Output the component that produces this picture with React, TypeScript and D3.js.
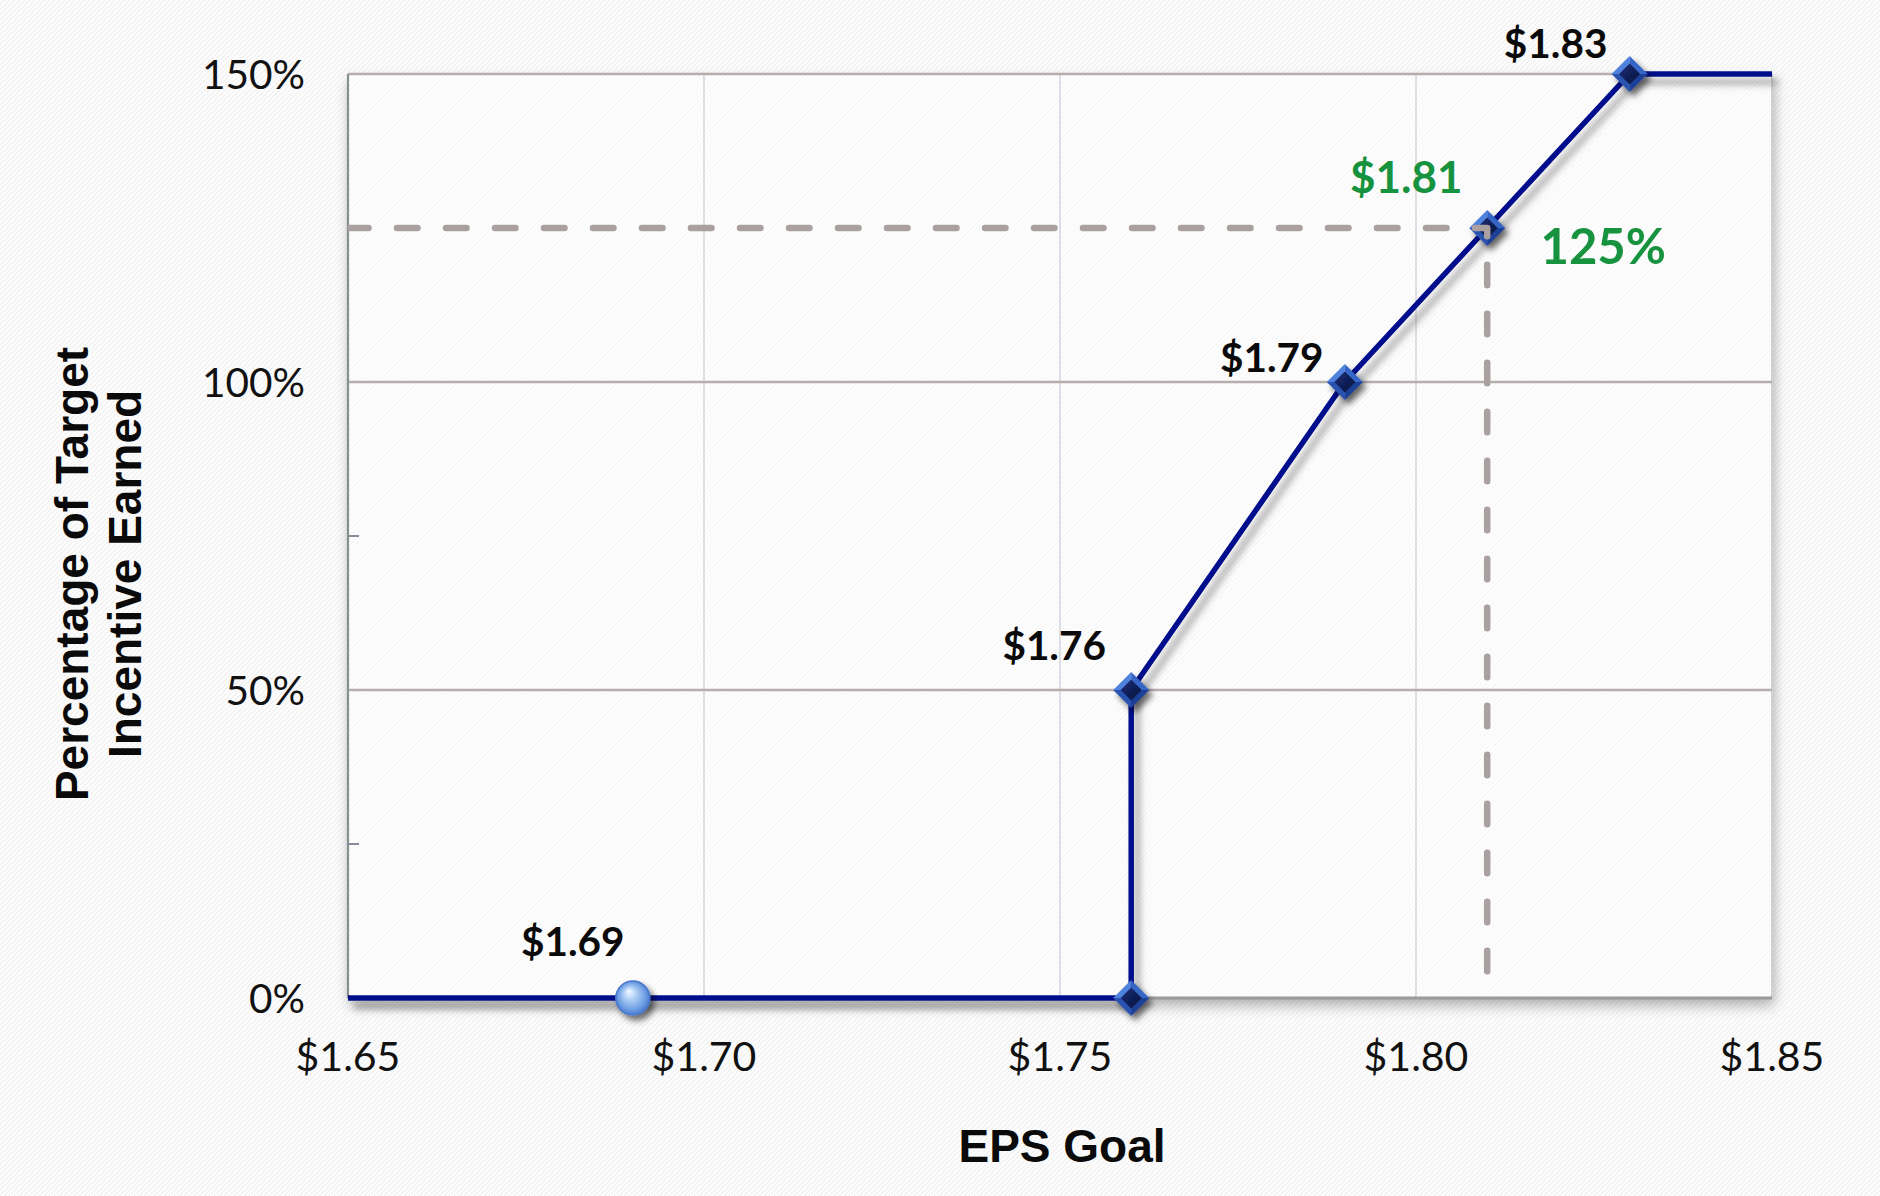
import React from "react";
import * as d3 from "d3";

// ---------- data ----------
const xTickValues = [1.65, 1.7, 1.75, 1.8, 1.85];
const yTickValues = [0, 0.5, 1.0, 1.5];
const yMinorTickValues = [0.25, 0.75, 1.25];

const payoutEps = [1.65, 1.76, 1.76, 1.79, 1.81, 1.83, 1.85];
const payoutPct = [0, 0, 0.5, 1.0, 1.25, 1.5, 1.5];

const diamondEps = [1.76, 1.76, 1.79, 1.81, 1.83];
const diamondPct = [0, 0.5, 1.0, 1.25, 1.5];

const thresholdEps = [1.69];
const thresholdPct = [0];

const refEps = [1.65, 1.81, 1.81];
const refPct = [1.25, 1.25, 0.04];

const labelText = ["$1.69", "$1.76", "$1.79", "$1.81", "125%", "$1.83"];
const labelEps = [1.69, 1.76, 1.79, 1.81, 1.81, 1.83];
const labelPct = [0, 0.5, 1.0, 1.25, 1.25, 1.5];
const labelHighlight = [false, false, false, true, true, false];

// ---------- layout / style ----------
const W = 1880;
const H = 1196;
const PL = 348, PR = 1772, PT = 74, PB = 998;
const labelOffsets: [number, number, number][] = [
  [-60, -42, 40.5],
  [-77, -30, 40.5],
  [-73, -10, 40.5],
  [-81, -35, 44],
  [116, 36, 49],
  [-74, -16, 40.5],
];
const NAVY = "#000c8c";
const GREEN = "#17923f";
const DASH = "#aaa0a0";

export default function App() {
  const x = d3.scaleLinear().domain([1.65, 1.85]).range([PL, PR]);
  const y = d3.scaleLinear().domain([0, 1.5]).range([PB, PT]);

  const line = d3
    .line<[number, number]>()
    .x((d) => x(d[0]))
    .y((d) => y(d[1]));

  const payoutPath = line(payoutEps.map((e, i) => [e, payoutPct[i]]) as [number, number][]) || "";
  const refPath = line(refEps.map((e, i) => [e, refPct[i]]) as [number, number][]) || "";

  const fmtX = (v: number) => "$" + d3.format(".2f")(v);
  const fmtY = d3.format(".0%");

  const dr = 18; // diamond half-size
  const di = 10.5;

  return (
    <svg
      width={W}
      height={H}
      style={{ position: "absolute", left: 0, top: 0, display: "block" }}
      xmlns="http://www.w3.org/2000/svg"
    >
      <defs>
        <pattern id="hatch" width="5" height="5" patternUnits="userSpaceOnUse">
          <rect width="5" height="5" fill="#fcfcfc" />
          <path d="M-1,6 L6,-1" stroke="#ececec" strokeWidth="1" />
        </pattern>
        <filter id="plotShadow" x="-10%" y="-10%" width="120%" height="125%">
          <feDropShadow dx="2" dy="7" stdDeviation="7" floodColor="#6a6a6a" floodOpacity="0.55" />
        </filter>
        <filter id="lineShadow" x="-10%" y="-10%" width="120%" height="120%">
          <feDropShadow dx="6" dy="8" stdDeviation="3.5" floodColor="#6a6a6a" floodOpacity="0.6" />
        </filter>
        <filter id="markerShadow" x="-60%" y="-60%" width="220%" height="220%">
          <feDropShadow dx="4" dy="5" stdDeviation="3" floodColor="#000" floodOpacity="0.55" />
        </filter>
        <radialGradient id="sphere" cx="50%" cy="50%" r="55%" fx="38%" fy="30%">
          <stop offset="0%" stopColor="#f4faff" />
          <stop offset="30%" stopColor="#b6d4f7" />
          <stop offset="75%" stopColor="#6a9be2" />
          <stop offset="100%" stopColor="#3d6dc6" />
        </radialGradient>
        <linearGradient id="diamondCore" x1="0" y1="0" x2="1" y2="1">
          <stop offset="0%" stopColor="#1a2f78" />
          <stop offset="100%" stopColor="#07123a" />
        </linearGradient>
        <clipPath id="plotClip">
          <rect x={PL} y={PT - 10} width={PR - PL} height={PB - PT + 10} />
        </clipPath>
      </defs>

      {/* background */}
      <rect x={0} y={0} width={W} height={H} fill="url(#hatch)" />

      {/* plot area */}
      <rect x={PL} y={PT} width={PR - PL} height={PB - PT} fill="#ffffff" filter="url(#plotShadow)" />
      <rect x={PL} y={PT} width={PR - PL} height={PB - PT} fill="url(#hatch)" opacity={0.6} />
      <line x1={PR} x2={PR} y1={PT} y2={PB} stroke="#d0d0d0" strokeWidth={2} />

      {/* vertical gridlines */}
      {xTickValues.slice(1, -1).map((v) => (
        <line key={"vg" + v} x1={x(v)} x2={x(v)} y1={PT} y2={PB} stroke="#d6d6e2" strokeWidth={1.6} />
      ))}
      {/* horizontal gridlines */}
      {yTickValues.slice(1).map((v) => (
        <line key={"hg" + v} x1={PL} x2={PR} y1={y(v)} y2={y(v)} stroke="#b6adad" strokeWidth={2.4} />
      ))}

      {/* axes */}
      <line x1={PL} x2={PL} y1={PT} y2={PB} stroke="#86908f" strokeWidth={2.2} />
      <line x1={PL} x2={PR} y1={PB} y2={PB} stroke="#9a9a9a" strokeWidth={3} />
      {yMinorTickValues.map((v) => (
        <line key={"mt" + v} x1={PL} x2={PL + 11} y1={y(v)} y2={y(v)} stroke="#8a8a9a" strokeWidth={2} />
      ))}

      {/* tick labels */}
      {xTickValues.map((v) => (
        <text
          key={"xt" + v}
          x={x(v)}
          y={PB + 73}
          textAnchor="middle"
          fontFamily="Lato, 'Open Sans', sans-serif"
          fontSize={41}
          fill="#111"
        >
          {fmtX(v)}
        </text>
      ))}
      {yTickValues.map((v) => (
        <text
          key={"yt" + v}
          x={PL - 43}
          y={y(v) + 15}
          textAnchor="end"
          fontFamily="Lato, 'Open Sans', sans-serif"
          fontSize={40.5}
          fill="#111"
        >
          {fmtY(v)}
        </text>
      ))}

      {/* payout line */}
      <path
        d={payoutPath}
        fill="none"
        stroke={NAVY}
        strokeWidth={5.5}
        strokeLinejoin="round"
        filter="url(#lineShadow)"
      />

      {/* threshold sphere */}
      {thresholdEps.map((e, i) => (
        <g key={"sp" + i} filter="url(#markerShadow)">
          <circle cx={x(e)} cy={y(thresholdPct[i])} r={17} fill="url(#sphere)" stroke="#4a78cc" strokeWidth={1.5} />
        </g>
      ))}

      {/* diamond markers */}
      {diamondEps.map((e, i) => {
        const cx = x(e);
        const cy = y(diamondPct[i]);
        return (
          <g key={"dm" + i} transform={`translate(${cx},${cy})`} filter="url(#markerShadow)">
            <path d={`M0,${-dr} L${-dr},0 L0,0 Z`} fill="#4f82dc" />
            <path d={`M0,${-dr} L${dr},0 L0,0 Z`} fill="#3566c6" />
            <path d={`M${dr},0 L0,${dr} L0,0 Z`} fill="#1c3f98" />
            <path d={`M${-dr},0 L0,${dr} L0,0 Z`} fill="#2a52b0" />
            <path d={`M0,${-di} L${di},0 L0,${di} L${-di},0 Z`} fill="url(#diamondCore)" />
          </g>
        );
      })}

      {/* reference dashed line */}
      <path
        d={refPath}
        fill="none"
        stroke={DASH}
        strokeWidth={6.5}
        strokeDasharray="20.5 28.5"
        strokeLinecap="round"
        strokeLinejoin="round"
        clipPath="url(#plotClip)"
      />

      {/* point labels */}
      {labelText.map((t, i) => (
        <text
          key={"lb" + i}
          x={x(labelEps[i]) + labelOffsets[i][0]}
          y={y(labelPct[i]) + labelOffsets[i][1]}
          textAnchor="middle"
          fontFamily="Lato, 'Open Sans', sans-serif"
          fontWeight="bold"
          fontSize={labelOffsets[i][2]}
          fill={labelHighlight[i] ? GREEN : "#0a0a0a"}
        >
          {t}
        </text>
      ))}

      {/* axis titles */}
      <text
        x={(PL + PR) / 2 + 2}
        y={1162}
        textAnchor="middle"
        fontFamily="'Liberation Sans', Arial, sans-serif"
        fontWeight="bold"
        fontSize={46}
        fill="#0a0a0a"
      >
        EPS Goal
      </text>
      <g transform="translate(88,574) rotate(-90)">
        <text
          x={0}
          y={0}
          textAnchor="middle"
          fontFamily="'Liberation Sans', Arial, sans-serif"
          fontWeight="bold"
          fontSize={46}
          fill="#0a0a0a"
        >
          Percentage of Target
        </text>
        <text
          x={0}
          y={53}
          textAnchor="middle"
          fontFamily="'Liberation Sans', Arial, sans-serif"
          fontWeight="bold"
          fontSize={46}
          fill="#0a0a0a"
        >
          Incentive Earned
        </text>
      </g>
    </svg>
  );
}
